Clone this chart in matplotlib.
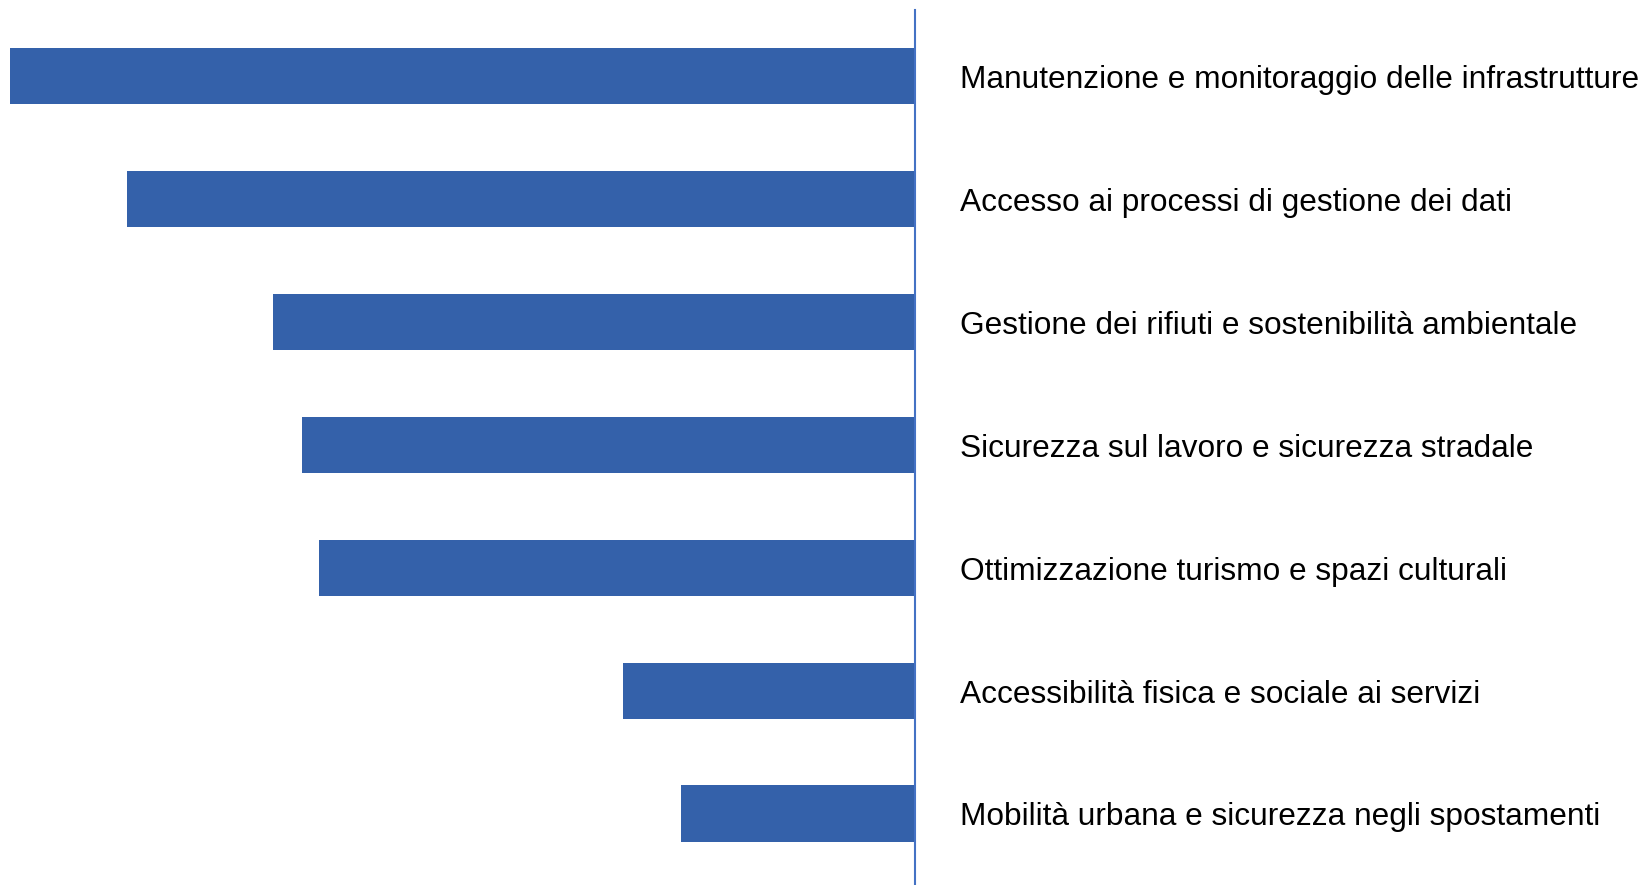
import matplotlib
matplotlib.use("Agg")
import matplotlib.pyplot as plt

categories = [
    "Manutenzione e monitoraggio delle infrastrutture",
    "Accesso ai processi di gestione dei dati",
    "Gestione dei rifiuti e sostenibilità ambientale",
    "Sicurezza sul lavoro e sicurezza stradale",
    "Ottimizzazione turismo e spazi culturali",
    "Accessibilità fisica e sociale ai servizi",
    "Mobilità urbana e sicurezza negli spostamenti",
]
values = [31, 27, 22, 21, 20.4, 10, 8]

plt.rcParams['font.family'] = ['Liberation Sans', 'DejaVu Sans']

W, H = 1644, 885
fig = plt.figure(figsize=(W / 100, H / 100), dpi=100)
ax_right = 915
ax_top = 10
ax = fig.add_axes([0, 0, ax_right / W, (H - ax_top) / H])

pos = list(range(len(categories)))
ax.barh(pos, values, height=0.456, color="#3461AA", zorder=2)

xmax = values[0] * ax_right / 905
ax.set_xlim(xmax, 0)
spacing = 122.9
ax.set_ylim(6 + (885 - 813.5) / spacing, -(76 - ax_top) / spacing)

for s in ["top", "bottom", "left"]:
    ax.spines[s].set_visible(False)
ax.spines["right"].set_color("#4472C4")
ax.spines["right"].set_linewidth(1.5)
ax.set_xticks([])
ax.set_yticks([])
ax.patch.set_alpha(0)

for p, lab in zip(pos, categories):
    ax.annotate(lab, xy=(1, p), xycoords=("axes fraction", "data"),
                xytext=(960 - ax_right, -4), textcoords="offset pixels",
                ha="left", va="center", fontsize=22.8, color="#000000")

fig.savefig("out.png", dpi=100)
